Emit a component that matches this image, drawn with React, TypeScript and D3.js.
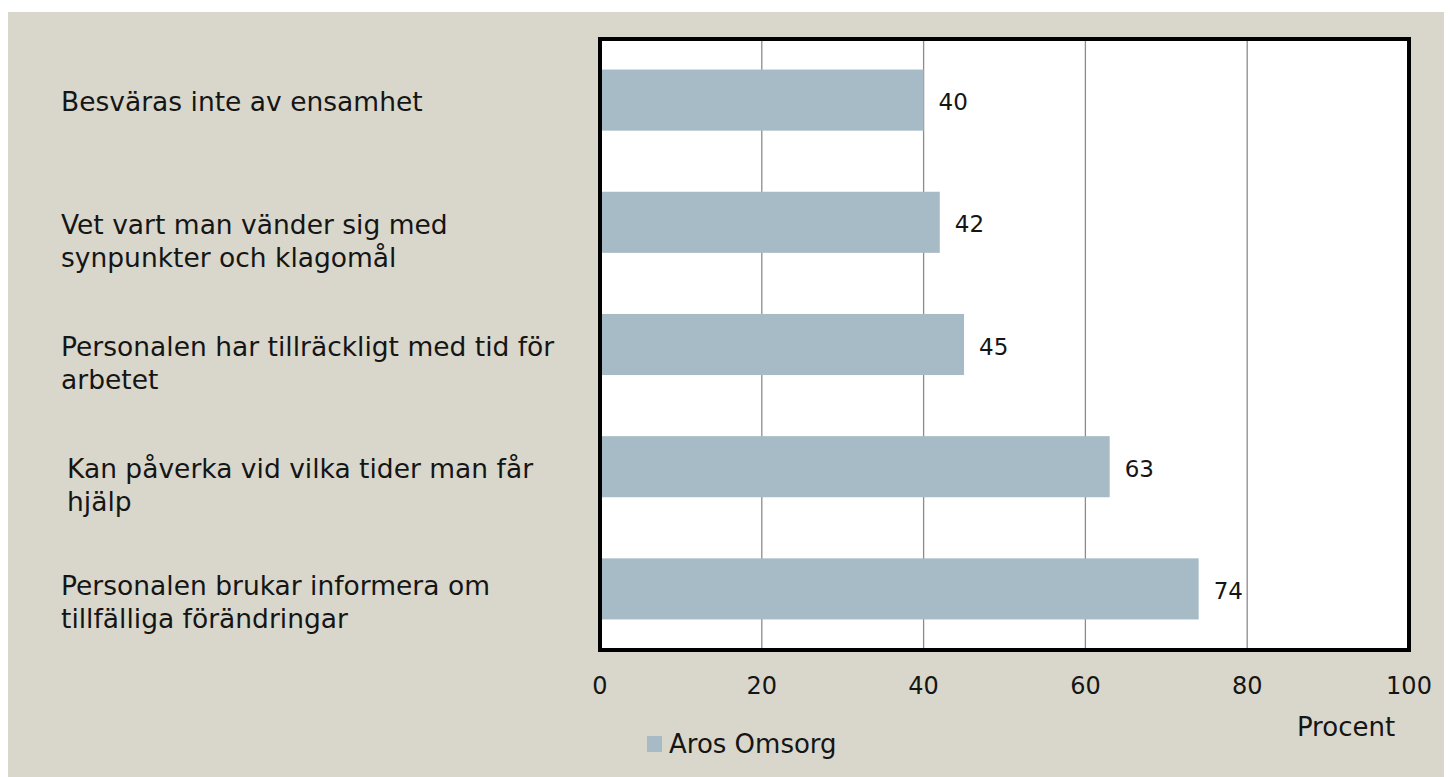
import * as d3 from "d3";

const categories = [
  ["Besväras inte av ensamhet"],
  ["Vet vart man vänder sig med", "synpunkter och klagomål"],
  ["Personalen har tillräckligt med tid för", "arbetet"],
  ["Kan påverka vid vilka tider man får", "hjälp"],
  ["Personalen brukar informera om", "tillfälliga förändringar"],
];
const values = [40, 42, 45, 63, 74];
const ticks = [0, 20, 40, 60, 80, 100];
const seriesName = "Aros Omsorg";
const axisTitle = "Procent";

const W = 1444;
const H = 769;
const FONT = "'DejaVu Sans', sans-serif";
const BAR = "#a7bbc6";
const INK = "#151515";

export default function App() {
  const x = d3.scaleLinear().domain([0, 100]).range([592, 1401]);
  const y = d3
    .scaleBand<number>()
    .domain(d3.range(categories.length))
    .range([31, 642])
    .paddingInner(0.5)
    .paddingOuter(0.25);

  return (
    <svg width={W} height={H} style={{ display: "block" }}>
      <rect x={0} y={4} width={W} height={H - 4} fill="#d9d7cb" />
      <rect x={x(0)} y={31} width={x(100) - x(0)} height={611} fill="#fff" />
      {ticks.slice(1, -1).map((t) => (
        <line key={t} x1={x(t)} x2={x(t)} y1={31} y2={642} stroke="#8c8c8c" strokeWidth={1.3} />
      ))}
      {values.map((v, i) => (
        <g key={i}>
          <rect x={x(0)} y={y(i)} width={x(v) - x(0)} height={y.bandwidth()} fill={BAR} />
          <text
            x={x(v) + 15}
            y={y(i)! + y.bandwidth() / 2 + 2}
            dy="0.35em"
            fontFamily={FONT}
            fontSize={23}
            fill={INK}
          >
            {v}
          </text>
        </g>
      ))}
      <rect
        x={x(0)}
        y={31}
        width={x(100) - x(0)}
        height={611}
        fill="none"
        stroke="#000"
        strokeWidth={4}
      />
      {categories.map((lines, i) => {
        const cy = y(i)! + y.bandwidth() / 2;
        const lh = 33;
        const start = lines.length > 1 && i === categories.length - 1 ? cy - 3 : cy + 2;
        return (
          <text key={i} fontFamily={FONT} fontSize={26.5} fill={INK}>
            {lines.map((l, j) => (
              <tspan key={j} x={i === 3 ? 59 : 53} y={start + j * lh} dy="0.35em">
                {l}
              </tspan>
            ))}
          </text>
        );
      })}
      {ticks.map((t) => (
        <text
          key={t}
          x={x(t)}
          y={678}
          dy="0.35em"
          textAnchor="middle"
          fontFamily={FONT}
          fontSize={24}
          fill={INK}
        >
          {t}
        </text>
      ))}
      <text x={1338} y={719} dy="0.35em" textAnchor="middle" fontFamily={FONT} fontSize={26} fill={INK}>
        {axisTitle}
      </text>
      <rect x={639} y={728} width={15} height={16} fill={BAR} />
      <text x={661} y={736} dy="0.35em" fontFamily={FONT} fontSize={26} fill={INK}>
        {seriesName}
      </text>
    </svg>
  );
}
